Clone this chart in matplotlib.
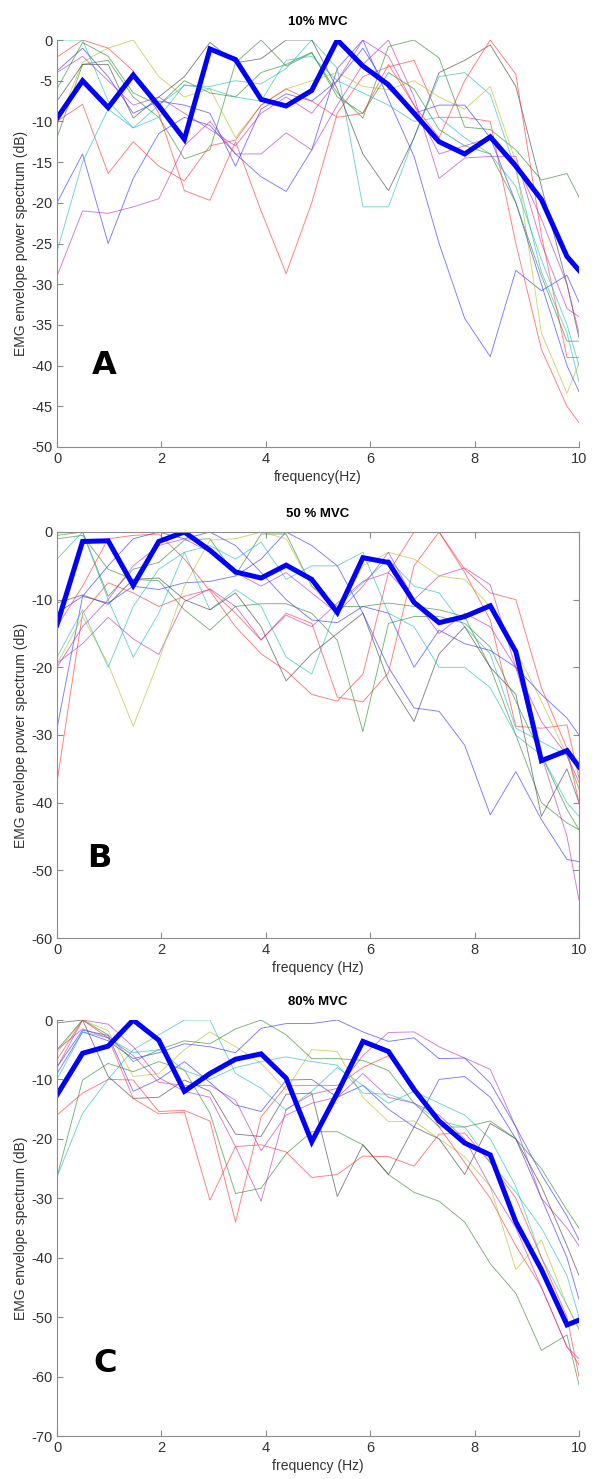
import matplotlib
matplotlib.use("Agg")
import matplotlib.pyplot as plt

plt.rcParams['font.family'] = ['Liberation Sans', 'DejaVu Sans']
plt.rcParams['axes.unicode_minus'] = False

# ---------------- data ----------------
freq = [0, 0.49, 0.98, 1.46, 1.95, 2.44, 2.93, 3.42, 3.91, 4.39, 4.88,
        5.37, 5.86, 6.35, 6.84, 7.32, 7.81, 8.30, 8.79, 9.28, 9.77, 10.0]

titles = ["10% MVC", "50 % MVC", "80% MVC"]
xlabels = ["frequency(Hz)", "frequency (Hz)", "frequency (Hz)"]
ylabels = ["EMG envelope power spectrum (dB)",
           "EMG envelope power spectrum (dB)",
           "EMG envelope spectrum (dB)"]
panel_letters = ["A", "B", "C"]
ylims = [-50, -60, -70]
ysteps = [5, 10, 10]

a_mean = [-9.6, -5.0, -8.3, -4.3, -8.1, -12.2, -1.1, -2.4, -7.3, -8.1, -6.2,
          0.0, -3.2, -5.5, -9.0, -12.5, -14.0, -11.9, -15.5, -19.6, -26.6, -28.3]
a_subjects = [
    [-20, -14, -25, -17, -11.5, -9.5, -10.5, -14, -16.8, -18.6, -13.5, -3.5, 0, -7.3, -14.3, -25, -34.2, -38.9, -28.3, -30.8, -28.9, -32.2],
    [-12, -3, -2.5, -7, -9.5, -14.6, -13.5, -2.8, 0, -3.2, -1.6, -6.5, -9.6, -0.8, 0, -2.2, -10.7, -11, -13.5, -17.2, -16.4, -19.3],
    [-2.1, 0, -1, -3.8, -9, -18.5, -19.7, -12.5, -21, -28.7, -20, -9, -4.5, -3.3, -2.5, -9.5, -9.5, -10, -25, -38, -45, -47],
    [0, 0, -7.5, -10.8, -8, -5.6, -5.7, -5, -5.4, -3.5, 0, -3.5, -20.5, -20.5, -12, -4.5, -4, -6.7, -16, -28.5, -36, -42],
    [-29, -21, -21.3, -20.5, -19.5, -13, -10, -14, -14, -11.4, -13.5, -8, -3, 0, -7, -17, -14.5, -14.3, -14.3, -25, -33, -34],
    [-10.5, -2.7, -1, 0, -4.5, -7, -6, -12, -8, -6, -5, -4, -5.7, -6.1, -5, -7, -8.5, -5.7, -15, -36, -43.4, -39.7],
    [-7.5, -3, -3, -9.6, -7, -4.5, -0.3, -2.8, -2.3, 0, 0, -6, -14, -18.5, -12, -4, -2.5, -0.6, -5.7, -18, -30, -36.6],
    [-3.8, -1, -4.5, -9, -7.5, -8, -9, -15.5, -8.5, -6.6, -7.5, -5, -1, -6, -9, -8, -8, -12, -20, -30, -40, -43.2],
    [-6, -0.3, -2, -6.5, -8, -5, -6.5, -7, -4, -3, -1.5, -7, -9, -4, -6, -11, -13, -14, -20, -29, -37, -37],
    [-10, -7.9, -16.4, -12.5, -15.5, -17.3, -13, -12.3, -8, -6, -7.5, -9.5, -9, -3, -8, -12, -5, 0, -4.2, -24, -39, -39],
    [-26, -15, -8.5, -10.8, -9.5, -5.5, -6, -7, -7.5, -2.5, -2, -5, -6.5, -8, -10, -9.5, -12, -14, -18, -27, -35, -40],
    [-4, -2, -5, -8, -7, -9, -11, -13, -9, -7, -9, -5, 0, -2, -8, -14, -13, -12, -15, -22, -30, -36],
]

b_mean = [-13.7, -1.4, -1.3, -7.9, -1.4, 0, -2.7, -5.9, -6.8, -4.9, -7.0,
          -11.9, -3.8, -4.5, -10.4, -13.4, -12.5, -10.9, -17.7, -33.8, -32.3, -34.7]
b_subjects = [
    [-29, -9.5, -10.5, -8, -8.5, -7.5, -7.3, -6.5, -4, 0, -2, -5, -12, -20, -26, -26.5, -31.5, -41.8, -35.4, -42.5, -48.4, -48.7],
    [-0.5, 0, -9.5, -5.5, -4.5, -1.2, -1, -6.4, -0.3, -0.3, -8, -11, -11, -10.5, -11, -11.5, -12.5, -20, -30, -40, -43, -44],
    [-37, -12, -7.5, -9, -11, -9.5, -8.5, -12, -16, -12, -13.5, -24.4, -25.1, -20.8, -5, 0, -6, -13, -28.7, -29, -28.5, -36.4],
    [-4, 0, -10, -18.5, -12, -3, -11.5, -8.5, -11, -18.5, -21, -11, -7.5, -4, -8, -9, -14, -18, -29, -31, -33, -38],
    [-19.4, -16.5, -12.6, -15.8, -18.1, -10.3, -8.4, -11, -15.9, -12.3, -14, -10.5, -7.3, -6, -10, -6.5, -5.3, -7.8, -20, -33, -45, -54.4],
    [-19.5, -12.5, -19.5, -28.7, -19, -8, -1.2, -1, 0, -1, -8, -12, -5, -3, -4, -6.5, -7, -11, -17.5, -25, -33, -38],
    [-10.5, -9.3, -10.7, -7, -6.8, -10, -11.5, -9, -14, -22, -18, -15, -12, -22, -28, -18, -14, -20, -24, -42, -35, -40],
    [-12, -9.5, -5, -1, 0, -1, 0, -2, -6, -10, -13, -13.4, -11, -12, -20, -14.5, -16.5, -17.5, -20, -24, -27.5, -30],
    [-1, -0.5, -5.5, -7, -7.2, -11.5, -14.5, -11, -10.6, -10.6, -12, -16, -29.5, -13.5, -12.5, -12.5, -13.5, -17, -25, -33, -41, -44],
    [-14, -8, -1, -0.5, -0.3, -4, -8.7, -14, -18, -20.5, -24, -25, -21, -6, 0, 0, -5.5, -9, -10, -23, -32, -40],
    [-18.5, -11.5, -20, -11, -5.5, -3, -2, -4, -1.5, -7, -5, -5, -3, -12, -14, -20, -20, -23, -30, -33, -40, -42],
    [-20, -14, -10, -5, -2, -1, -3, -6, -8, -6, -9, -12, -8, -3, -10, -15, -12, -14, -20, -28, -33, -37],
]

c_mean = [-12.6, -5.6, -4.4, 0, -3.4, -12, -9, -6.6, -5.7, -9.8, -20.5,
          -12.3, -3.6, -5.3, -11.7, -17, -20.7, -22.7, -34, -42, -51.3, -50.5]
c_subjects = [
    [-7.9, -1.7, -2.6, -12, -10, -7, -10.5, -14.3, -15.4, -10.1, -10, -13, -11, -15, -18, -10, -9.5, -13, -20, -30, -40, -47],
    [-26.4, -10.1, -7.3, -8.7, -7, -8.4, -15.7, -29.2, -28.3, -22.5, -18.8, -18.8, -21, -26, -29, -30.5, -34, -41, -46, -55.6, -53, -61.4],
    [-16, -12.3, -10, -10.1, -15.4, -15.2, -17, -34, -16.3, -11.1, -11, -11, -8, -6, -11, -18, -24, -30, -38, -45, -55, -58],
    [-26.4, -15.7, -10, -5, -2.5, 0, 0, -9, -11.5, -15.2, -12, -8, -11, -14, -12, -14, -16, -20, -28, -40, -48, -52],
    [-8, 0, -0.7, -4.5, -9.7, -12, -13, -21.3, -30.5, -15, -12.5, -11.5, -6, -2.1, -2, -4.5, -6.4, -8.3, -18, -30, -35, -38],
    [-5.5, 0, -1.8, -9.5, -9, -5, -2, -4.5, -7.3, -11.8, -5, -5.3, -13, -17.1, -17, -20, -23, -28, -42, -37, -48, -52],
    [-0.5, 0, -9.5, -13.2, -13, -10.1, -12, -19.2, -19.6, -12.5, -12.3, -29.7, -21, -26, -18, -20, -26, -17.4, -20, -28, -38, -43],
    [-9, -2, -3.5, -6.5, -5.5, -4, -4.5, -5.5, -1.4, -0.6, -0.6, 0, -2, -3.6, -3, -6.5, -6.4, -10.6, -18, -26, -33, -37],
    [-5, 0, -2.5, -7, -5, -3.5, -4, -1.5, 0, -2.5, -6.5, -6.5, -6.8, -8.5, -14, -18, -18, -17, -20, -25, -32, -35],
    [-6.7, 0, -3, -13.2, -15.8, -15.5, -30.3, -21.3, -21, -22.2, -26.5, -26, -22.9, -23, -24.6, -19.2, -19, -24, -30, -40, -50, -60],
    [-10, -2, -3, -5.5, -5, -8.5, -10, -8, -7, -6.2, -7, -7.6, -12.3, -12.5, -14, -17, -18, -24, -29, -35, -43, -50],
    [-5, -1.5, -3, -6, -10.5, -11, -11, -13.5, -22, -16, -14, -13, -9, -13, -14, -16, -20, -28, -35, -45, -55, -57],
]

# ---------------- styling ----------------
line_colors = ["#3333ff", "#2e8b2e", "#ff3333", "#22bbbb", "#bb33bb", "#bbbb22", "#444444"]
mean_color = "#0000ff"
axis_gray = "#8c8c8c"
text_gray = "#333333"

W, H = 592, 1479
fig = plt.figure(figsize=(W / 100, H / 100), dpi=100)

# axes boxes in pixels: (left, top, right, bottom)
boxes = [(57, 40, 579, 447), (57, 532, 579, 938), (57, 1020, 579, 1436)]
boxed = [False, True, False]
letter_pos = [(0.067, 0.20), (0.057, 0.195), (0.070, 0.175)]

all_means = [a_mean, b_mean, c_mean]
all_subjects = [a_subjects, b_subjects, c_subjects]

for i in range(3):
    l, t, r, b = boxes[i]
    ax = fig.add_axes([l / W, 1 - b / H, (r - l) / W, (b - t) / H])
    for j, s in enumerate(all_subjects[i]):
        ax.plot(freq, s, color=line_colors[j % len(line_colors)], lw=0.65, alpha=0.65)
    ax.plot(freq, all_means[i], color=mean_color, lw=3.6, solid_joinstyle='miter')
    ax.set_xlim(0, 10)
    ax.set_ylim(ylims[i], 0)
    ax.set_xticks(range(0, 11, 2))
    ax.set_yticks(range(ylims[i], 1, ysteps[i]))
    ax.tick_params(direction='in', length=4, width=0.8, colors=axis_gray,
                   labelcolor=text_gray, labelsize=10.5,
                   top=boxed[i], right=boxed[i])
    for side in ['left', 'bottom', 'top', 'right']:
        ax.spines[side].set_color(axis_gray)
        ax.spines[side].set_linewidth(0.8)
    if not boxed[i]:
        ax.spines['top'].set_visible(False)
        ax.spines['right'].set_visible(False)
    ax.set_title(titles[i], fontsize=9.5, fontweight='bold', color='black', pad=11)
    ax.set_xlabel(xlabels[i], fontsize=10, color=text_gray, labelpad=3)
    ax.set_ylabel(ylabels[i], fontsize=10, color=text_gray, labelpad=2)
    ax.text(letter_pos[i][0], letter_pos[i][1], panel_letters[i], transform=ax.transAxes,
            fontsize=23, fontweight='bold', family='DejaVu Sans', color='black',
            ha='left', va='center')

fig.savefig("out.png", dpi=100)
